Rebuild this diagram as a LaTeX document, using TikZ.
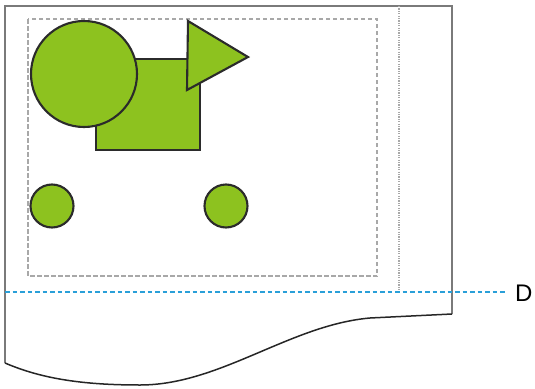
\documentclass[tikz,border=0pt]{standalone}
\usepackage{fontspec}
\setmainfont{Liberation Sans}
\usetikzlibrary{calc}
\definecolor{cShape}{HTML}{8DC21F}
\definecolor{bShape}{HTML}{2B2B2B}
\definecolor{bPaper}{HTML}{7A7A7A}
\definecolor{bMargin}{HTML}{A8A8A8}
\definecolor{bCut}  {HTML}{2A9FD8}
\tikzset{
  greenshape/.style={fill=cShape, draw=bShape, line width=2.1pt},
  paperedge/.style={draw=bPaper, line width=2.6pt},
  paperbot/.style={draw=black!85, line width=1.5pt},
  margin/.style={draw=bMargin, line width=1.4pt, dash pattern=on 4.5pt off 2.5pt},
  printedge/.style={draw=bMargin, line width=1.2pt, dash pattern=on 1.2pt off 1.2pt},
  cutline/.style={draw=bCut, line width=1.9pt, dash pattern=on 4.5pt off 3pt},
  lbl/.style={font=\fontsize{24}{28}\selectfont, inner sep=0pt, anchor=west},
}

\begin{document}
\begin{tikzpicture}[x=1pt, y=-1pt]

% ── Frame ─────────────────────────────────────────────────────────────────────
\useasboundingbox (0,0) rectangle (535,388);

% ── Paper ─────────────────────────────────────────────────────────────────────
\draw[paperedge] (5,363) -- (5,6) -- (452,6) -- (452,314);
\draw[paperbot] (452,314) -- (370,318)
  .. controls (290,325) and (220,385) .. (140,385)
  .. controls (80,385) and (40,378) .. (5,363);

% ── Printable area ────────────────────────────────────────────────────────────
\draw[margin] (28,19) rectangle (377,276);
\draw[printedge] (399,6) -- (399,292);

% ── Shapes ────────────────────────────────────────────────────────────────────
\draw[greenshape] (96,59) rectangle (200,150);
\draw[greenshape] (84,74) circle[radius=53];
\draw[greenshape] (188,21) -- (248,57) -- (187,90) -- cycle;
\draw[greenshape] (52,206) circle[radius=21.5];
\draw[greenshape] (226,206) circle[radius=21.5];

% ── Cut position ──────────────────────────────────────────────────────────────
\coordinate (cutL) at (5,292);
\coordinate (cutR) at (505,292);
\node[lbl] (cutlbl) at (515,293) {D};
\draw[cutline] (cutL) -- (cutR);

\end{tikzpicture}
\end{document}
